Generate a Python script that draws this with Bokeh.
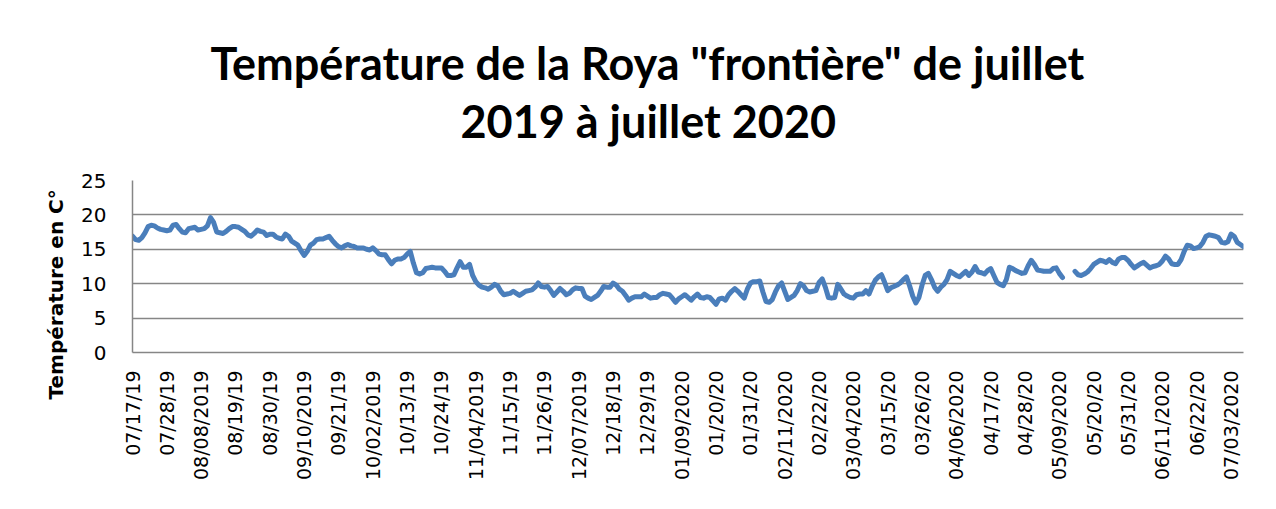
import numpy as np
from bokeh.plotting import figure
from bokeh.models import Range1d, FixedTicker, Title, ColumnDataSource
from bokeh.embed import file_html
from bokeh.resources import INLINE

NaN = float("nan")

title_line1 = 'Température de la Roya "frontière" de juillet'
title_line2 = "2019 à juillet 2020"
y_label = "Température en C°"

# daily temperatures from 07/17/2019 (day 0) to 07/07/2020 (day 356)
temps = [
    16.9, 16.4, 16.3, 16.7, 17.4, 18.3, 18.5, 18.4, 18.1, 17.9, 17.8,
    17.7, 17.8, 18.5, 18.6, 18.0, 17.5, 17.4, 18.0, 18.1, 18.2,
    17.8, 17.9, 18.0, 18.4, 19.6, 18.9, 17.5, 17.4, 17.3, 17.6,
    18.0, 18.3, 18.3, 18.2, 17.9, 17.6, 17.1, 16.9, 17.3, 17.8,
    17.6, 17.5, 17.0, 17.2, 17.2, 16.8, 16.6, 16.5, 17.2, 16.9,
    16.2, 15.9, 15.6, 14.8, 14.1, 14.7, 15.6, 15.9, 16.4, 16.5,
    16.5, 16.7, 16.9, 16.3, 15.8, 15.4, 15.2, 15.5, 15.7, 15.5,
    15.4, 15.2, 15.2, 15.2, 15.0, 14.9, 15.2, 14.8, 14.3, 14.2,
    14.2, 13.5, 12.9, 13.4, 13.6, 13.6, 13.8, 14.3, 14.7, 13.0,
    11.6, 11.4, 11.6, 12.2, 12.3, 12.4, 12.3, 12.3, 12.3, 11.8,
    11.2, 11.2, 11.3, 12.3, 13.2, 12.4, 12.4, 12.8, 11.2, 10.3,
    9.8, 9.5, 9.4, 9.2, 9.5, 9.9, 9.7, 8.9, 8.4, 8.5,
    8.6, 8.9, 8.6, 8.3, 8.6, 8.9, 9.0, 9.1, 9.5, 10.1,
    9.6, 9.5, 9.6, 9.0, 8.3, 8.8, 9.3, 8.9, 8.4, 8.6,
    9.1, 9.4, 9.3, 9.3, 8.2, 7.9, 7.7, 8.0, 8.3, 8.9,
    9.6, 9.5, 9.5, 10.1, 9.8, 9.2, 8.9, 8.3, 7.6, 7.9,
    8.1, 8.1, 8.1, 8.5, 8.2, 7.9, 8.0, 8.0, 8.4, 8.6,
    8.5, 8.4, 7.9, 7.3, 7.8, 8.1, 8.4, 8.0, 7.6, 8.1,
    8.5, 8.0, 7.9, 8.1, 8.0, 7.5, 7.0, 7.8, 7.9, 7.6,
    8.4, 8.9, 9.3, 8.9, 8.4, 7.9, 9.2, 10.1, 10.3, 10.3,
    10.4, 8.8, 7.4, 7.3, 7.7, 8.8, 9.7, 10.1, 8.9, 7.7,
    8.0, 8.3, 9.0, 10.0, 9.7, 9.0, 8.8, 8.9, 9.0, 10.2,
    10.7, 9.5, 8.0, 7.9, 8.0, 9.9, 9.2, 8.5, 8.2, 8.0,
    7.9, 8.4, 8.5, 8.5, 9.0, 8.5, 9.6, 10.5, 11.0, 11.3,
    10.2, 9.0, 9.4, 9.6, 9.8, 10.1, 10.6, 11.0, 9.7, 8.2,
    7.2, 8.0, 9.8, 11.2, 11.5, 10.6, 9.5, 8.9, 9.5, 9.9,
    10.6, 11.8, 11.5, 11.2, 11.0, 11.4, 11.8, 11.2, 11.7, 12.5,
    11.7, 11.6, 11.4, 11.9, 12.2, 11.2, 10.2, 9.9, 9.7, 10.6,
    12.4, 12.2, 11.9, 11.7, 11.5, 11.6, 12.6, 13.4, 12.8, 12.0,
    11.9, 11.8, 11.8, 11.8, 12.2, 12.3, 11.5, 10.9, NaN, NaN,
    NaN, 11.8, 11.3, 11.2, 11.4, 11.7, 12.2, 12.8, 13.1, 13.4,
    13.3, 13.1, 13.5, 13.1, 12.9, 13.6, 13.8, 13.8, 13.4, 12.8,
    12.3, 12.6, 12.9, 13.1, 12.7, 12.3, 12.5, 12.6, 12.8, 13.3,
    14.0, 13.6, 12.9, 12.8, 12.8, 13.5, 14.7, 15.6, 15.5, 15.1,
    15.2, 15.4, 16.0, 16.9, 17.1, 17.0, 16.9, 16.7, 16.0, 15.9,
    16.1, 17.2, 16.9, 16.0, 15.7, 15.4,
]

tick_labels = [
    "07/17/19", "07/28/19", "08/08/2019", "08/19/19", "08/30/19",
    "09/10/2019", "09/21/19", "10/02/2019", "10/13/19", "10/24/19",
    "11/04/2019", "11/15/19", "11/26/19", "12/07/2019", "12/18/19",
    "12/29/19", "01/09/2020", "01/20/20", "01/31/20", "02/11/2020",
    "02/22/20", "03/04/2020", "03/15/20", "03/26/20", "04/06/2020",
    "04/17/20", "04/28/20", "05/09/2020", "05/20/20", "05/31/20",
    "06/11/2020", "06/22/20", "07/03/2020",
]
label_step = 11
y_ticks = [0, 5, 10, 15, 20, 25]

days = list(range(len(temps)))
source = ColumnDataSource(dict(day=days, temp=temps))

p = figure(width=1254, height=501, output_backend="svg", toolbar_location=None,
           x_range=Range1d(0, len(temps) - 1), y_range=Range1d(0, 25),
           min_border_left=132, min_border_right=11, min_border_top=180,
           min_border_bottom=149)
p.outline_line_color = None

p.line("day", "temp", source=source, line_color="#4a7ebb", line_width=5,
       line_join="round", line_cap="round")

# titles (p.title is the outer line, the added Title sits next to the plot)
p.title.text = title_line1
p.title.align = "left"
p.title.offset = 78
p.title.text_font = "Lato"
p.title.text_font_size = "45px"
p.title.text_font_style = "bold"
p.title.text_color = "#000000"
p.title.standoff = -55
p.add_layout(Title(text=title_line2, align="left", offset=328, text_font="Lato",
                   text_font_size="45px", text_font_style="bold",
                   text_color="#000000", standoff=62, vertical_align="top"),
             "above")

# x axis
xt = [i * label_step for i in range(len(tick_labels))]
p.xaxis.ticker = FixedTicker(ticks=xt)
p.xaxis.major_label_overrides = {t: lab for t, lab in zip(xt, tick_labels)}
p.xaxis.major_label_orientation = np.pi / 2
p.xaxis.major_label_text_font = "DejaVu Sans"
p.xaxis.major_label_text_font_size = "19px"
p.xaxis.major_label_text_color = "#000000"
p.xaxis.major_label_standoff = 12
p.xaxis.axis_line_color = "#868686"
p.xaxis.axis_line_width = 1.5
p.xaxis.major_tick_line_color = None
p.xaxis.minor_tick_line_color = None
p.xgrid.grid_line_color = None

# y axis
p.yaxis.ticker = FixedTicker(ticks=y_ticks)
p.yaxis.major_label_text_font = "DejaVu Sans"
p.yaxis.major_label_text_font_size = "20px"
p.yaxis.major_label_text_color = "#000000"
p.yaxis.major_label_standoff = 20
p.yaxis.axis_line_color = "#868686"
p.yaxis.axis_line_width = 1.5
p.yaxis.major_tick_line_color = None
p.yaxis.minor_tick_line_color = None
p.yaxis.axis_label = y_label + "\u00a0" * 8
p.yaxis.axis_label_text_font = "DejaVu Sans"
p.yaxis.axis_label_text_font_size = "20px"
p.yaxis.axis_label_text_font_style = "bold"
p.yaxis.axis_label_text_color = "#000000"
p.yaxis.axis_label_standoff = 10
p.ygrid.grid_line_color = "#868686"
p.ygrid.grid_line_width = 1.5

open("out.html", "w").write(file_html(p, INLINE))
